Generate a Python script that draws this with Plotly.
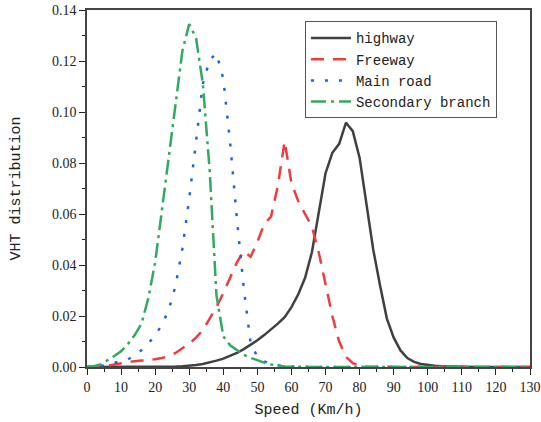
import plotly.graph_objects as go

speed = list(range(0, 132, 2))

highway = [0, 0, 0, 0, 0, 0, 0, 0, 0, 0, 0, 0, 0,
           0.0002, 0.0003, 0.0005, 0.0008, 0.0012, 0.0018, 0.0025, 0.0033,
           0.0043, 0.0055, 0.0070, 0.0087, 0.0105, 0.0125, 0.0146, 0.0170,
           0.0195, 0.0235, 0.0285, 0.0350, 0.0450, 0.0600, 0.0760, 0.0840,
           0.0875, 0.0958, 0.0925, 0.0820, 0.0640, 0.0460, 0.0320, 0.0190,
           0.0115, 0.0065, 0.0035, 0.0020, 0.0012, 0.0008, 0.0005, 0.0003,
           0.0002, 0.0001, 0.0001, 0, 0, 0, 0, 0, 0, 0, 0, 0, 0]

freeway = [0, 0, 0.0002, 0.0005, 0.0010, 0.0015, 0.0020, 0.0023, 0.0025,
           0.0027, 0.0030, 0.0035, 0.0043, 0.0055, 0.0072, 0.0092, 0.0115,
           0.0145, 0.0190, 0.0235, 0.0290, 0.0350, 0.0410, 0.0455, 0.0432,
           0.0490, 0.0560, 0.0590, 0.0710, 0.0885, 0.0720, 0.0650, 0.0600,
           0.0550, 0.0450, 0.0320, 0.0200, 0.0100, 0.0040, 0.0015, 0.0005,
           0.0002, 0.0001, 0, 0, 0, 0, 0, 0, 0, 0, 0, 0, 0, 0, 0, 0, 0, 0,
           0, 0, 0, 0, 0, 0, 0]

main_road = [0, 0.0001, 0.0004, 0.0009, 0.0015, 0.0022, 0.0030, 0.0045,
             0.0066, 0.0092, 0.0125, 0.0165, 0.0225, 0.0320, 0.0465, 0.0660,
             0.0890, 0.1110, 0.1205, 0.1230, 0.1130, 0.0880, 0.0580, 0.0310,
             0.0095, 0.0040, 0.0022, 0.0012, 0.0007, 0.0004, 0.0002, 0.0001,
             0, 0, 0, 0, 0, 0, 0, 0, 0, 0, 0, 0, 0, 0, 0, 0, 0, 0, 0, 0, 0,
             0, 0, 0, 0, 0, 0, 0, 0, 0, 0, 0, 0, 0]

secondary = [0, 0.0003, 0.0010, 0.0025, 0.0043, 0.0062, 0.0090, 0.0125,
             0.0170, 0.0270, 0.0410, 0.0616, 0.0820, 0.1030, 0.1240, 0.1345,
             0.1290, 0.1110, 0.0770, 0.0280, 0.0120, 0.0085, 0.0065, 0.0048,
             0.0036, 0.0025, 0.0017, 0.0010, 0.0005, 0.0002, 0.0001, 0, 0,
             0, 0, 0, 0, 0, 0, 0, 0, 0, 0, 0, 0, 0, 0, 0, 0, 0, 0, 0, 0, 0,
             0, 0, 0, 0, 0, 0, 0, 0, 0, 0, 0, 0]

series = [
    ("highway", highway, "#404040", "solid"),
    ("Freeway", freeway, "#f03c3c", "13px,9px"),
    ("Main road", main_road, "#1a66e0", "3px,11px"),
    ("Secondary branch", secondary, "#2faa62", "15px,5px,3px,5px"),
]

x_ticks = list(range(0, 131, 10))
y_ticks = [0, 0.02, 0.04, 0.06, 0.08, 0.10, 0.12, 0.14]

fig = go.Figure()
for name, vals, color, dash in series:
    fig.add_trace(go.Scatter(x=speed, y=vals, mode="lines", name=name,
                             line=dict(color=color, width=2.5, dash=dash)))

axis_font = dict(family="Liberation Serif", size=14, color="#222")
fig.update_layout(
    width=541, height=422,
    margin=dict(l=87, r=11, t=10, b=55, autoexpand=False),
    paper_bgcolor="white", plot_bgcolor="white",
    font=dict(family="Liberation Mono", size=15, color="#222"),
    legend=dict(x=0.492, y=0.968, xanchor="left", yanchor="top",
                bordercolor="#555", borderwidth=1, bgcolor="white",
                font=dict(family="Liberation Mono", size=14, color="#222"),
                tracegroupgap=0, itemwidth=40),
    showlegend=True,
)
fig.update_xaxes(range=[0, 130], tickvals=x_ticks, ticks="outside", ticklen=6,
                 tickcolor="#222", tickwidth=1.2, showline=True, linecolor="#444",
                 linewidth=1.5, mirror=True, showgrid=False, zeroline=False,
                 tickfont=axis_font, automargin=False,
                 minor=dict(ticks="outside", ticklen=3, dtick=5, tickcolor="#222"),
                 title=dict(text="Speed (Km/h)", standoff=10,
                            font=dict(family="Liberation Mono", size=15)))
fig.update_yaxes(range=[0, 0.14], tickvals=y_ticks, tickformat=".2f",
                 ticks="outside", ticklen=6, tickcolor="#222", tickwidth=1.2,
                 showline=True, linecolor="#444", linewidth=1.5, mirror=True,
                 showgrid=False, zeroline=False, tickfont=axis_font,
                 automargin=False,
                 minor=dict(ticks="outside", ticklen=3, dtick=0.01, tickcolor="#222"),
                 title=dict(text="VHT distribution", standoff=28,
                            font=dict(family="Liberation Mono", size=15)))

fig.write_html("out.html")
